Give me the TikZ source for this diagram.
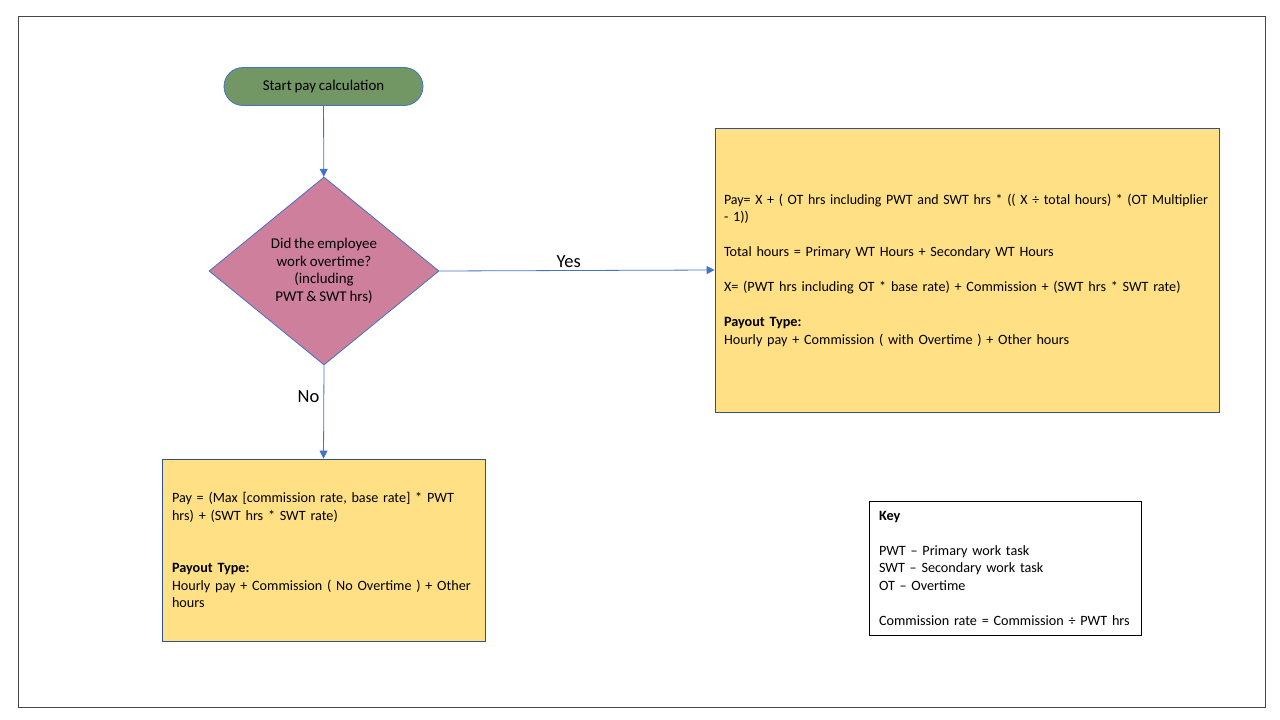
\documentclass[tikz,border=0pt]{standalone}
\usepackage{fontspec}
\usepackage{graphicx}
\setmainfont{Carlito}[WordSpace=0.85]
\usetikzlibrary{shapes.geometric,shapes.misc,arrows.meta}
\definecolor{startgreen}{RGB}{114,151,100}
\definecolor{decpink}{RGB}{206,127,155}
\definecolor{boxyellow}{RGB}{255,224,133}
\definecolor{lineblue}{RGB}{68,114,196}
\definecolor{boxblue}{RGB}{47,82,143}
\definecolor{framegray}{RGB}{70,70,70}
\tikzset{
  frame/.style={draw=framegray, line width=1pt},
  startnode/.style={rounded rectangle, draw=lineblue, fill=startgreen, line width=0.8pt, minimum width=199pt, minimum height=38pt, inner sep=0pt, font=\fontsize{14.9}{18}\selectfont},
  decision/.style={diamond, draw=lineblue, fill=decpink, line width=0.8pt, shape aspect=1.22, minimum width=230pt, minimum height=188pt, inner sep=0pt, align=center, font=\fontsize{14.9}{17.5}\selectfont},
  yellowbox/.style={rectangle, draw=boxblue, fill=boxyellow, line width=0.8pt, align=left, inner ysep=0pt},
  keystyle/.style={rectangle, draw=black, fill=white, line width=0.8pt, align=left, inner ysep=0pt},
  arrow/.style={draw=lineblue, line width=0.8pt, -{Triangle[width=8pt,length=8pt]}},
  lbl/.style={font=\fontsize{18.5}{21}\selectfont, inner sep=1pt}
}
\begin{document}
\begin{tikzpicture}[x=1pt,y=-1pt, font=\fontsize{14.2}{17.5}\selectfont]
\useasboundingbox (0,0) rectangle (1280,720);
\draw[frame] (18,16) rectangle (1265,707);
\node[startnode] (start) at (323.5,86.5) {Start pay calculation};
\node[decision] (dec) at (324,271) {Did the employee\\ work overtime?\\(including\\PWT \& SWT hrs)};
\node[yellowbox, text width=486pt, inner xsep=9pt, minimum height=284pt] (yes) at (967,270)
 {\resizebox{484pt}{\height}{Pay= X + ( OT hrs including PWT and SWT hrs * (( X ÷ total hours) * (OT Multiplier}\\
 - 1))\\[17.5pt]
 Total hours = Primary WT Hours + Secondary WT Hours\\[17.5pt]
 X= (PWT hrs including OT * base rate) + Commission + (SWT hrs * SWT rate)\\[17.5pt]
 \textbf{Payout Type:}\\
 Hourly pay + Commission ( with Overtime ) + Other hours};
\node[yellowbox, text width=303pt, inner xsep=10pt, minimum height=182pt] (no) at (323.5,550)
 {Pay = (Max [commission rate, base rate] * PWT\\
 hrs) + (SWT hrs * SWT rate)\\[35pt]
 \textbf{Payout Type:}\\
 Hourly pay + Commission ( No Overtime ) + Other\\
 hours};
\node[keystyle, text width=252pt, inner xsep=10pt, minimum height=134pt] (key) at (1005,568)
 {\textbf{Key}\\[17.5pt]
 PWT – Primary work task\\
 SWT – Secondary work task\\
 OT – Overtime\\[17.5pt]
 Commission rate = Commission ÷ PWT hrs};
\draw[arrow] (start) -- (dec);
\draw[arrow] (dec.east) -- node[lbl, pos=0.47, above=1pt] {Yes} (yes.west);
\draw[arrow] (dec.south) -- node[lbl, pos=0.34, left=3pt] {No} (no.north);
\end{tikzpicture}
\end{document}
